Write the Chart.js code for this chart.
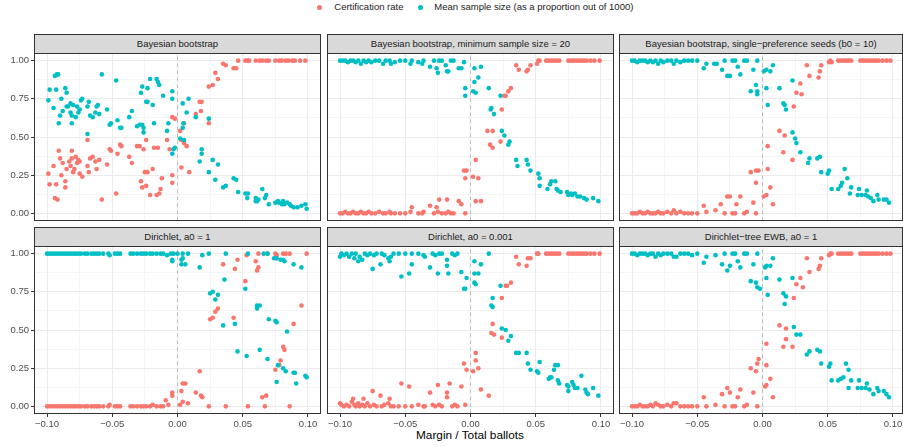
<!DOCTYPE html>
<html>
<head>
<meta charset="utf-8">
<script src="https://cdn.jsdelivr.net/npm/chart.js@4"></script>
<style>
  body { margin: 0; width: 903px; height: 447px; overflow: hidden; background: #fff; position: relative;
         font-family: "Liberation Sans", Arial, sans-serif; }
  canvas { position: absolute; }
  .strip { position: absolute; box-sizing: border-box; height: 20px; border: 1px solid #333; background: #D9D9D9;
           color: #1A1A1A; font-size: 9.5px; line-height: 18px; text-align: center; white-space: nowrap; overflow: hidden; }
  .lg-dot { position: absolute; width: 5px; height: 5px; border-radius: 50%; }
  .lg-txt { position: absolute; font-size: 9.5px; line-height: 12px; color: #1A1A1A; white-space: nowrap; }
  #xtitle { position: absolute; left: 320px; width: 300px; top: 428px; text-align: center; font-size: 11.8px; line-height: 15px; color: #000; }
</style>
</head>
<body>
<div id="xtitle">Margin / Total ballots</div>
<script>
// ---- data ----
const seriesNames = ['Certification rate', 'Mean sample size (as a proportion out of 1000)'];
const seriesColors = ['#F8766D', '#00BFC4'];
const panelTitles = [
  'Bayesian bootstrap',
  'Bayesian bootstrap, minimum sample size = 20',
  'Bayesian bootstrap, single\u2212preference seeds (b0 = 10)',
  'Dirichlet, a0 = 1',
  'Dirichlet, a0 = 0.001',
  'Dirichlet\u2212tree EWB, a0 = 1'
];
const xTicks = [-0.1, -0.075, -0.05, -0.025, 0, 0.025, 0.05, 0.075, 0.1];
const xMajor = [-0.1, -0.05, 0, 0.05, 0.1];
const yTicks = [0, 0.125, 0.25, 0.375, 0.5, 0.625, 0.75, 0.875, 1];
const yMajor = [0, 0.25, 0.5, 0.75, 1];

// [margin, value]
const bbCert = [[-0.099,0.26],[-0.098,0.19],[-0.095,0.31],[-0.093,0.19],[-0.094,0.10],[-0.092,0.09],[-0.091,0.41],[-0.090,0.36],[-0.088,0.33],[-0.089,0.25],[-0.086,0.21],[-0.086,0.17],[-0.085,0.29],[-0.083,0.34],[-0.082,0.31],[-0.081,0.41],[-0.081,0.36],[-0.080,0.27],[-0.079,0.29],[-0.078,0.37],[-0.077,0.33],[-0.076,0.35],[-0.075,0.34],[-0.075,0.26],[-0.073,0.24],[-0.069,0.48],[-0.069,0.31],[-0.068,0.27],[-0.067,0.36],[-0.065,0.37],[-0.063,0.34],[-0.062,0.29],[-0.060,0.35],[-0.058,0.09],[-0.054,0.32],[-0.052,0.42],[-0.051,0.41],[-0.047,0.13],[-0.046,0.39],[-0.044,0.45],[-0.043,0.44],[-0.037,0.37],[-0.035,0.33],[-0.031,0.44],[-0.029,0.44],[-0.028,0.21],[-0.027,0.17],[-0.026,0.42],[-0.025,0.27],[-0.024,0.48],[-0.024,0.18],[-0.023,0.27],[-0.021,0.12],[-0.019,0.29],[-0.018,0.43],[-0.016,0.12],[-0.015,0.43],[-0.014,0.13],[-0.013,0.16],[-0.012,0.23],[-0.008,0.48],[-0.006,0.42],[-0.004,0.25],[-0.004,0.20],[-0.004,0.63],[-0.002,0.62],[0.002,0.54],[0.003,0.30],[0.003,0.48],[0.005,0.46],[0.007,0.44],[0.009,0.27],[0.005,0.59],[0.014,0.65],[0.017,0.73],[0.0185,0.73],[0.018,0.67],[0.024,0.59],[0.024,0.83],[0.027,0.84],[0.029,0.92],[0.031,0.88],[0.035,0.98],[0.037,0.97],[0.043,0.95],[0.045,0.95],[0.0465,1],[0.052,1],[0.054,1],[0.055,1],[0.060,1],[0.063,1],[0.065,1],[0.068,1],[0.070,1],[0.075,1],[0.078,1],[0.080,1],[0.083,1],[0.085,1],[0.088,1],[0.090,1],[0.094,1],[0.098,1]];
const bbSample = [[-0.099,0.74],[-0.098,0.81],[-0.095,0.69],[-0.094,0.90],[-0.0925,0.91],[-0.0915,0.91],[-0.093,0.81],[-0.091,0.59],[-0.090,0.64],[-0.089,0.75],[-0.088,0.67],[-0.086,0.82],[-0.085,0.79],[-0.085,0.70],[-0.084,0.70],[-0.082,0.66],[-0.082,0.72],[-0.081,0.59],[-0.081,0.64],[-0.080,0.71],[-0.078,0.63],[-0.077,0.70],[-0.076,0.66],[-0.075,0.68],[-0.074,0.74],[-0.073,0.75],[-0.069,0.70],[-0.069,0.52],[-0.068,0.73],[-0.067,0.64],[-0.065,0.63],[-0.063,0.66],[-0.062,0.70],[-0.061,0.71],[-0.060,0.65],[-0.058,0.91],[-0.054,0.68],[-0.052,0.58],[-0.051,0.59],[-0.047,0.87],[-0.046,0.61],[-0.044,0.56],[-0.043,0.56],[-0.037,0.63],[-0.035,0.67],[-0.031,0.57],[-0.029,0.58],[-0.028,0.79],[-0.027,0.83],[-0.027,0.58],[-0.026,0.56],[-0.026,0.53],[-0.024,0.73],[-0.023,0.82],[-0.023,0.73],[-0.021,0.88],[-0.019,0.71],[-0.018,0.59],[-0.016,0.88],[-0.015,0.86],[-0.014,0.84],[-0.011,0.77],[-0.008,0.54],[-0.007,0.59],[-0.004,0.75],[-0.004,0.80],[-0.004,0.39],[-0.003,0.42],[-0.002,0.43],[0.002,0.49],[0.004,0.72],[0.004,0.56],[0.0045,0.59],[0.005,0.48],[0.007,0.66],[0.0085,0.75],[0.014,0.63],[0.017,0.34],[0.0185,0.42],[0.0185,0.39],[0.024,0.62],[0.024,0.27],[0.027,0.35],[0.029,0.22],[0.031,0.32],[0.035,0.17],[0.037,0.18],[0.043,0.23],[0.045,0.22],[0.0465,0.14],[0.052,0.13],[0.0535,0.10],[0.054,0.13],[0.060,0.08],[0.060,0.10],[0.061,0.08],[0.062,0.09],[0.065,0.16],[0.067,0.10],[0.068,0.12],[0.070,0.06],[0.075,0.07],[0.077,0.08],[0.078,0.07],[0.080,0.06],[0.081,0.08],[0.082,0.06],[0.084,0.07],[0.086,0.06],[0.087,0.05],[0.089,0.04],[0.092,0.04],[0.095,0.05],[0.098,0.06],[0.099,0.03]];

const bbMinCert = [[-0.100,0],[-0.098,0],[-0.096,0.01],[-0.094,0],[-0.092,0],[-0.090,0.01],[-0.088,0],[-0.086,0],[-0.084,0.01],[-0.082,0],[-0.080,0],[-0.078,0.01],[-0.076,0],[-0.073,0],[-0.070,0.01],[-0.067,0],[-0.065,0],[-0.062,0.01],[-0.061,0],[-0.058,0],[-0.054,0],[-0.050,0],[-0.046,0.01],[-0.045,0.04],[-0.040,0],[-0.037,0],[-0.036,0.01],[-0.031,0.05],[-0.028,0],[-0.026,0.04],[-0.025,0.01],[-0.024,0.09],[-0.022,0],[-0.019,0],[-0.018,0.09],[-0.017,0.01],[-0.015,0],[-0.013,0],[-0.009,0.08],[-0.007,0.06],[-0.004,0],[-0.005,0.28],[-0.003,0.28],[-0.004,0.23],[0.002,0.24],[0.004,0.35],[0.006,0.23],[0.004,0.08],[0.008,0.08],[0.013,0.54],[0.017,0.54],[0.015,0.45],[0.017,0.43],[0.023,0.47],[0.024,0.68],[0.026,0.77],[0.027,0.77],[0.029,0.80],[0.031,0.82],[0.035,0.97],[0.037,0.94],[0.043,0.93],[0.044,0.94],[0.046,0.97],[0.051,0.98],[0.052,1],[0.053,1],[0.058,1],[0.060,1],[0.062,1],[0.064,1],[0.066,1],[0.068,1],[0.075,1],[0.077,1],[0.079,1],[0.081,1],[0.083,1],[0.085,1],[0.087,1],[0.089,1],[0.092,1],[0.095,1],[0.099,1]];
const bbMinSample = [[-0.100,1],[-0.098,1],[-0.096,1],[-0.094,0.99],[-0.092,1],[-0.090,1],[-0.088,0.99],[-0.086,1],[-0.084,0.98],[-0.082,1],[-0.080,0.99],[-0.078,1],[-0.076,0.99],[-0.073,1],[-0.070,1],[-0.067,0.98],[-0.065,1],[-0.062,1],[-0.061,0.98],[-0.058,0.99],[-0.054,1],[-0.050,1],[-0.046,0.98],[-0.045,1],[-0.040,0.99],[-0.037,0.98],[-0.036,1],[-0.031,0.96],[-0.028,1],[-0.026,0.95],[-0.025,0.92],[-0.024,1],[-0.022,1],[-0.019,0.97],[-0.018,0.93],[-0.017,0.93],[-0.015,1],[-0.013,1],[-0.009,0.95],[-0.007,0.95],[-0.005,0.99],[-0.004,0.82],[-0.004,0.77],[0.003,0.95],[0.008,0.96],[0.003,0.86],[0.006,0.89],[0.002,0.80],[0.004,0.79],[0.014,0.82],[0.023,0.77],[0.016,0.69],[0.0155,0.68],[0.018,0.65],[0.024,0.54],[0.026,0.51],[0.029,0.45],[0.030,0.47],[0.035,0.35],[0.036,0.31],[0.043,0.35],[0.044,0.32],[0.046,0.28],[0.052,0.26],[0.053,0.23],[0.053,0.18],[0.059,0.16],[0.061,0.19],[0.062,0.21],[0.065,0.21],[0.066,0.16],[0.067,0.15],[0.069,0.14],[0.074,0.14],[0.075,0.12],[0.077,0.13],[0.078,0.12],[0.080,0.13],[0.082,0.11],[0.084,0.11],[0.087,0.10],[0.089,0.09],[0.094,0.10],[0.098,0.08]];

const bbSeedCert = [[-0.100,0],[-0.098,0],[-0.096,0],[-0.094,0.01],[-0.092,0],[-0.090,0],[-0.088,0.01],[-0.086,0],[-0.084,0],[-0.082,0],[-0.080,0.01],[-0.078,0],[-0.076,0],[-0.073,0.01],[-0.070,0],[-0.068,0.02],[-0.066,0],[-0.063,0.01],[-0.060,0],[-0.057,0],[-0.054,0],[-0.050,0],[-0.045,0.05],[-0.043,0.01],[-0.036,0.02],[-0.032,0.06],[-0.029,0],[-0.027,0.11],[-0.025,0.11],[-0.023,0],[-0.021,0],[-0.020,0.06],[-0.017,0.11],[-0.014,0],[-0.012,0.01],[-0.007,0.07],[-0.005,0],[-0.009,0.27],[-0.005,0.28],[-0.003,0.28],[-0.005,0.20],[0.001,0.11],[0.003,0.12],[0.004,0.29],[0.004,0.44],[0.006,0.17],[0.008,0.06],[0.013,0.54],[0.017,0.51],[0.016,0.40],[0.023,0.35],[0.024,0.70],[0.026,0.79],[0.029,0.85],[0.030,0.78],[0.034,0.97],[0.036,0.90],[0.043,0.89],[0.044,0.93],[0.045,0.97],[0.051,0.99],[0.052,1],[0.053,0.99],[0.058,1],[0.060,1],[0.062,1],[0.064,1],[0.066,1],[0.068,1],[0.075,1],[0.077,1],[0.079,1],[0.081,1],[0.083,1],[0.085,1],[0.087,1],[0.089,1],[0.092,1],[0.095,1],[0.098,1]];
const bbSeedSample = [[-0.100,1],[-0.098,1],[-0.096,0.99],[-0.094,1],[-0.092,1],[-0.090,1],[-0.088,0.99],[-0.086,1],[-0.084,0.99],[-0.082,1],[-0.080,0.98],[-0.078,1],[-0.076,0.99],[-0.073,1],[-0.070,1],[-0.068,0.98],[-0.066,1],[-0.063,0.99],[-0.060,1],[-0.057,1],[-0.054,1],[-0.050,1],[-0.045,0.95],[-0.043,0.98],[-0.037,0.98],[-0.035,0.98],[-0.031,0.94],[-0.027,0.90],[-0.025,0.90],[-0.029,1],[-0.023,1],[-0.021,1],[-0.019,0.96],[-0.017,0.91],[-0.014,1],[-0.012,1],[-0.007,0.94],[-0.004,1],[0.001,0.93],[0.003,0.94],[0.006,0.93],[0.008,0.97],[-0.009,0.80],[-0.005,0.84],[-0.004,0.80],[-0.004,0.78],[0.003,0.82],[0.004,0.71],[0.013,0.82],[0.023,0.87],[0.016,0.72],[0.017,0.71],[0.018,0.68],[0.023,0.53],[0.025,0.49],[0.026,0.46],[0.029,0.40],[0.036,0.36],[0.035,0.33],[0.042,0.36],[0.044,0.37],[0.045,0.27],[0.050,0.26],[0.051,0.28],[0.053,0.16],[0.058,0.16],[0.060,0.18],[0.061,0.20],[0.063,0.29],[0.065,0.23],[0.067,0.13],[0.068,0.17],[0.073,0.12],[0.074,0.16],[0.076,0.12],[0.079,0.12],[0.080,0.15],[0.081,0.11],[0.083,0.10],[0.085,0.08],[0.088,0.12],[0.089,0.09],[0.093,0.09],[0.095,0.09],[0.097,0.07]];

const dir1Cert = [[-0.100,0],[-0.098,0],[-0.096,0],[-0.094,0],[-0.092,0],[-0.090,0],[-0.088,0],[-0.086,0],[-0.084,0],[-0.082,0],[-0.080,0],[-0.078,0],[-0.076,0],[-0.074,0],[-0.071,0],[-0.069,0],[-0.066,0],[-0.064,0],[-0.062,0],[-0.060,0],[-0.057,0],[-0.053,0],[-0.052,0.01],[-0.048,0],[-0.046,0],[-0.044,0],[-0.036,0],[-0.034,0],[-0.031,0],[-0.028,0],[-0.026,0],[-0.024,0],[-0.021,0],[-0.019,0.01],[-0.016,0],[-0.013,0],[-0.011,0],[-0.009,0.04],[-0.004,0.07],[-0.004,0.09],[-0.007,0.01],[0.003,0.10],[0.004,0.15],[0.006,0.15],[0.002,0.01],[0.004,0.03],[0.008,0.02],[0.014,0.09],[0.018,0.07],[0.019,0.06],[0.017,0.23],[0.024,0],[0.037,0],[0.054,0],[0.067,0],[0.086,0],[0.025,0.57],[0.027,0.58],[0.029,0.62],[0.031,0.64],[0.035,0.93],[0.044,0.90],[0.046,0.96],[0.052,0.82],[0.053,0.99],[0.060,0.95],[0.061,0.89],[0.062,0.91],[0.062,1],[0.043,0.58],[0.069,1],[0.075,1],[0.076,0.99],[0.076,0.97],[0.081,1],[0.083,1],[0.086,1],[0.099,1],[0.095,0.66],[0.089,0.54],[0.081,0.39],[0.082,0.37],[0.079,0.30],[0.078,0.27],[0.075,0.24],[0.065,0.06],[0.068,0.07]];
const dir1Sample = [[-0.100,1],[-0.098,1],[-0.096,1],[-0.094,1],[-0.092,1],[-0.090,1],[-0.088,1],[-0.086,1],[-0.084,1],[-0.082,1],[-0.080,1],[-0.078,1],[-0.076,1],[-0.074,1],[-0.071,1],[-0.069,1],[-0.066,1],[-0.064,1],[-0.062,1],[-0.060,1],[-0.057,1],[-0.053,1],[-0.052,0.99],[-0.048,1],[-0.046,1],[-0.044,1],[-0.036,1],[-0.034,1],[-0.031,1],[-0.028,1],[-0.026,1],[-0.024,1],[-0.021,1],[-0.019,1],[-0.016,1],[-0.013,1],[-0.011,1],[-0.008,0.99],[-0.005,1],[-0.003,1],[0.000,1],[-0.004,0.96],[-0.004,0.95],[0.003,0.96],[0.004,0.97],[0.003,0.93],[0.006,0.93],[0.004,1],[0.008,1],[0.017,0.91],[0.019,0.99],[0.024,1],[0.037,1],[0.054,1],[0.066,1],[0.069,1],[0.074,0.97],[0.076,0.97],[0.079,0.96],[0.081,0.96],[0.082,0.95],[0.089,0.93],[0.095,0.91],[0.036,0.83],[0.052,0.77],[0.025,0.74],[0.027,0.75],[0.029,0.70],[0.031,0.73],[0.035,0.53],[0.044,0.54],[0.061,0.64],[0.061,0.66],[0.063,0.66],[0.070,0.57],[0.075,0.56],[0.076,0.55],[0.084,0.49],[0.046,0.36],[0.053,0.33],[0.063,0.37],[0.069,0.31],[0.077,0.27],[0.081,0.25],[0.083,0.23],[0.089,0.22],[0.090,0.22],[0.091,0.15],[0.076,0.16],[0.098,0.20],[0.099,0.19]];

const dir001Cert = [[-0.100,0.02],[-0.099,0.01],[-0.097,0],[-0.095,0.01],[-0.093,0],[-0.091,0.03],[-0.090,0.05],[-0.089,0.01],[-0.088,0],[-0.086,0.02],[-0.085,0],[-0.083,0.01],[-0.082,0.05],[-0.081,0],[-0.079,0.02],[-0.077,0],[-0.075,0.10],[-0.074,0.01],[-0.072,0],[-0.069,0.07],[-0.068,0],[-0.066,0.01],[-0.063,0.02],[-0.062,0.05],[-0.061,0],[-0.059,0],[-0.055,0],[-0.053,0.15],[-0.050,0],[-0.047,0.13],[-0.045,0],[-0.040,0.01],[-0.036,0],[-0.035,0],[-0.031,0.09],[-0.029,0.01],[-0.027,0],[-0.025,0.14],[-0.024,0.01],[-0.022,0],[-0.018,0.09],[-0.018,0.06],[-0.016,0.15],[-0.014,0],[-0.012,0.01],[-0.010,0],[-0.007,0.13],[-0.004,0.01],[-0.005,0.28],[-0.003,0.24],[0.002,0.23],[0.004,0.30],[0.004,0.35],[0.006,0.25],[0.008,0.11],[0.014,0.07],[0.017,0.54],[0.018,0.47],[0.016,0.48],[0.024,0.71],[0.024,0.45],[0.027,0.79],[0.028,0.79],[0.031,0.81],[0.035,0.98],[0.037,0.93],[0.043,0.92],[0.044,0.97],[0.046,0.97],[0.051,1],[0.052,1],[0.058,1],[0.060,1],[0.062,1],[0.064,1],[0.066,1],[0.068,1],[0.075,1],[0.077,1],[0.079,1],[0.081,1],[0.083,1],[0.085,1],[0.087,1],[0.089,1],[0.092,1],[0.095,1],[0.099,1]];
const dir001Sample = [[-0.100,0.98],[-0.099,1],[-0.097,0.99],[-0.095,1],[-0.093,0.98],[-0.091,1],[-0.089,0.97],[-0.088,1],[-0.086,0.95],[-0.085,0.98],[-0.083,0.96],[-0.081,1],[-0.079,0.99],[-0.077,1],[-0.075,0.90],[-0.074,0.99],[-0.072,1],[-0.069,0.93],[-0.068,1],[-0.066,0.99],[-0.063,0.97],[-0.062,0.95],[-0.061,0.98],[-0.059,1],[-0.055,1],[-0.053,0.85],[-0.050,1],[-0.047,0.87],[-0.045,0.93],[-0.045,1],[-0.040,1],[-0.036,0.99],[-0.035,0.98],[-0.031,0.91],[-0.029,1],[-0.027,0.99],[-0.025,0.87],[-0.024,1],[-0.022,1],[-0.018,0.92],[-0.018,0.96],[-0.017,0.87],[-0.014,1],[-0.012,0.99],[-0.010,1],[-0.007,0.88],[-0.003,0.84],[-0.005,0.77],[-0.004,0.77],[0.003,0.95],[0.008,0.93],[0.014,1],[0.003,0.81],[0.004,0.80],[0.003,0.87],[0.006,0.87],[0.017,0.71],[0.016,0.66],[0.017,0.65],[0.023,0.79],[0.024,0.51],[0.027,0.50],[0.029,0.43],[0.031,0.46],[0.035,0.35],[0.037,0.35],[0.043,0.35],[0.044,0.28],[0.046,0.24],[0.053,0.29],[0.051,0.23],[0.052,0.22],[0.060,0.18],[0.061,0.19],[0.062,0.19],[0.064,0.24],[0.065,0.27],[0.067,0.27],[0.067,0.17],[0.068,0.15],[0.074,0.14],[0.075,0.13],[0.075,0.10],[0.078,0.16],[0.079,0.14],[0.080,0.12],[0.082,0.12],[0.085,0.20],[0.088,0.11],[0.089,0.09],[0.090,0.08],[0.094,0.12],[0.098,0.07]];

const dtCert = [[-0.100,0],[-0.098,0],[-0.096,0],[-0.094,0.01],[-0.092,0],[-0.090,0],[-0.088,0],[-0.086,0.01],[-0.084,0],[-0.082,0.02],[-0.080,0.01],[-0.078,0],[-0.076,0],[-0.073,0.01],[-0.070,0],[-0.068,0.02],[-0.066,0.02],[-0.063,0],[-0.060,0],[-0.057,0],[-0.054,0],[-0.050,0],[-0.045,0.06],[-0.043,0],[-0.036,0.01],[-0.031,0.08],[-0.029,0],[-0.027,0.12],[-0.025,0.09],[-0.023,0],[-0.021,0],[-0.019,0.06],[-0.017,0.11],[-0.014,0],[-0.012,0.01],[-0.007,0.09],[-0.004,0],[-0.009,0.25],[-0.004,0.28],[-0.003,0.31],[-0.005,0.23],[0.002,0.13],[0.003,0.14],[0.003,0.27],[0.003,0.41],[0.006,0.18],[0.008,0.06],[0.013,0.53],[0.018,0.51],[0.018,0.44],[0.016,0.39],[0.023,0.39],[0.024,0.71],[0.029,0.84],[0.026,0.80],[0.031,0.78],[0.034,0.97],[0.036,0.88],[0.043,0.90],[0.044,0.92],[0.045,0.97],[0.051,0.99],[0.052,1],[0.053,1],[0.058,1],[0.060,1],[0.062,1],[0.064,1],[0.066,1],[0.068,1],[0.075,1],[0.077,1],[0.079,1],[0.081,1],[0.083,1],[0.085,1],[0.087,1],[0.089,1],[0.092,1],[0.095,1],[0.098,1]];
const dtSample = [[-0.100,1],[-0.098,1],[-0.096,0.99],[-0.094,1],[-0.092,1],[-0.090,1],[-0.088,0.99],[-0.086,1],[-0.084,1],[-0.082,0.98],[-0.080,1],[-0.078,0.99],[-0.076,1],[-0.073,1],[-0.070,1],[-0.068,0.98],[-0.066,0.98],[-0.063,1],[-0.060,1],[-0.057,1],[-0.054,0.99],[-0.050,1],[-0.045,0.94],[-0.043,0.98],[-0.036,0.99],[-0.031,0.93],[-0.027,0.89],[-0.025,0.92],[-0.029,1],[-0.023,1],[-0.021,1],[-0.019,0.95],[-0.017,0.91],[-0.014,1],[-0.012,1],[-0.007,0.93],[-0.004,1],[-0.009,0.82],[-0.005,0.81],[-0.004,0.78],[-0.002,0.77],[0.002,0.91],[0.003,0.92],[0.006,0.92],[0.008,0.97],[0.003,0.84],[0.004,0.73],[0.013,0.83],[0.023,0.84],[0.016,0.74],[0.018,0.72],[0.017,0.67],[0.024,0.52],[0.026,0.47],[0.029,0.47],[0.034,0.34],[0.036,0.36],[0.042,0.37],[0.044,0.36],[0.045,0.28],[0.051,0.26],[0.052,0.28],[0.053,0.17],[0.058,0.17],[0.060,0.18],[0.062,0.19],[0.064,0.28],[0.066,0.24],[0.066,0.12],[0.068,0.17],[0.073,0.12],[0.074,0.17],[0.076,0.12],[0.079,0.12],[0.080,0.15],[0.082,0.11],[0.085,0.08],[0.088,0.12],[0.089,0.10],[0.093,0.10],[0.095,0.08],[0.097,0.06]];

const panelData = [
  [bbCert, bbSample], [bbMinCert, bbMinSample], [bbSeedCert, bbSeedSample],
  [dir1Cert, dir1Sample], [dir001Cert, dir001Sample], [dtCert, dtSample]
];

// ---- layout ----
const COL_LEFT = [34, 327, 619];
const COL_W = [287, 287, 284];   // last column is cut by the picture edge
const ROW_TOP = [53, 246];
const PLOT_H = 168;
const Y_AXIS_W = 34;
const X_AXIS_H = 16;
const FULL_W = 287;

Chart.defaults.font.family = '"Liberation Sans", Arial, sans-serif';

const panelBorder = {
  id: 'panelBorder',
  afterDatasetsDraw(chart) {
    const a = chart.chartArea, c = chart.ctx;
    c.save();
    c.strokeStyle = '#333333';
    c.lineWidth = 1;
    c.strokeRect(a.left + 0.5, a.top + 0.5, a.right - a.left - 1, a.bottom - a.top - 1);
    c.restore();
  }
};

const toPts = arr => arr.map(p => ({x: p[0], y: p[1]}));
const fmt = v => v.toFixed(2).replace('-', '\u2212');
const noPad = s => { s.paddingTop = 0; s.paddingBottom = 0; s.paddingLeft = 0; s.paddingRight = 0; };

panelData.forEach((pd, i) => {
  const col = i % 3, row = Math.floor(i / 3);
  const showY = col === 0, showX = row === 1;

  const strip = document.createElement('div');
  strip.className = 'strip';
  strip.style.left = COL_LEFT[col] + 'px';
  strip.style.top = (ROW_TOP[row] - 19) + 'px';
  strip.style.width = COL_W[col] + 'px';
  strip.textContent = panelTitles[i];
  document.body.appendChild(strip);

  const cv = document.createElement('canvas');
  const w = COL_W[col] + (showY ? Y_AXIS_W : 0);
  const h = PLOT_H + (showX ? X_AXIS_H : 0);
  cv.width = w; cv.height = h;
  cv.style.width = w + 'px'; cv.style.height = h + 'px';
  cv.style.left = (COL_LEFT[col] - (showY ? Y_AXIS_W : 0)) + 'px';
  cv.style.top = ROW_TOP[row] + 'px';
  document.body.appendChild(cv);

  const xMax = -0.11 + 0.22 * COL_W[col] / FULL_W;

  new Chart(cv, {
    type: 'scatter',
    data: {
      datasets: [
        { data: [{x: 0, y: -0.05}, {x: 0, y: 1.05}], showLine: true, pointRadius: 0,
          borderColor: '#A3A3A3', borderWidth: 0.7, borderDash: [3.5, 3.5] },
        { label: seriesNames[1], data: toPts(pd[1]), backgroundColor: seriesColors[1],
          borderWidth: 0, pointRadius: 2.3 },
        { label: seriesNames[0], data: toPts(pd[0]), backgroundColor: seriesColors[0],
          borderWidth: 0, pointRadius: 2.3 }
      ]
    },
    options: {
      responsive: false,
      animation: false,
      events: [],
      layout: { padding: 0, autoPadding: false },
      plugins: { legend: { display: false }, tooltip: { enabled: false } },
      scales: {
        x: {
          type: 'linear', min: -0.11, max: xMax,
          afterBuildTicks: s => { s.ticks = xTicks.map(v => ({value: v})); },
          afterFit: s => { s.height = showX ? X_AXIS_H : 0; noPad(s); },
          border: { display: false },
          grid: {
            color: '#EBEBEB',
            lineWidth: c => (c.tick && xMajor.includes(c.tick.value)) ? 1 : 0.5,
            drawTicks: showX, tickLength: 3, tickWidth: 1,
            tickColor: c => (c.tick && xMajor.includes(c.tick.value)) ? '#333333' : 'rgba(0,0,0,0)'
          },
          ticks: {
            display: showX, autoSkip: false, maxRotation: 0, padding: 2,
            color: '#4D4D4D', font: { size: 9.5 },
            callback: v => xMajor.includes(v) ? fmt(v) : ''
          }
        },
        y: {
          min: -0.05, max: 1.05,
          afterBuildTicks: s => { s.ticks = yTicks.map(v => ({value: v})); },
          afterFit: s => { s.width = showY ? Y_AXIS_W : 0; noPad(s); },
          border: { display: false },
          grid: {
            color: '#EBEBEB',
            lineWidth: c => (c.tick && yMajor.includes(c.tick.value)) ? 1 : 0.5,
            drawTicks: showY, tickLength: 3, tickWidth: 1,
            tickColor: c => (c.tick && yMajor.includes(c.tick.value)) ? '#333333' : 'rgba(0,0,0,0)'
          },
          ticks: {
            display: showY, autoSkip: false, padding: 2,
            color: '#4D4D4D', font: { size: 9.5 },
            callback: v => yMajor.includes(v) ? fmt(v) : ''
          }
        }
      }
    },
    plugins: [panelBorder]
  });
});

// ---- legend ----
const legendPos = [{dot: 319.3, txt: 334.3}, {dot: 420, txt: 434.3}];
seriesNames.forEach((name, k) => {
  const d = document.createElement('div');
  d.className = 'lg-dot';
  d.style.background = seriesColors[k];
  d.style.left = (legendPos[k].dot - 2.5) + 'px';
  d.style.top = '4.8px';
  document.body.appendChild(d);
  const t = document.createElement('div');
  t.className = 'lg-txt';
  t.style.left = legendPos[k].txt + 'px';
  t.style.top = '1.3px';
  t.textContent = name;
  document.body.appendChild(t);
});
</script>
</body>
</html>
